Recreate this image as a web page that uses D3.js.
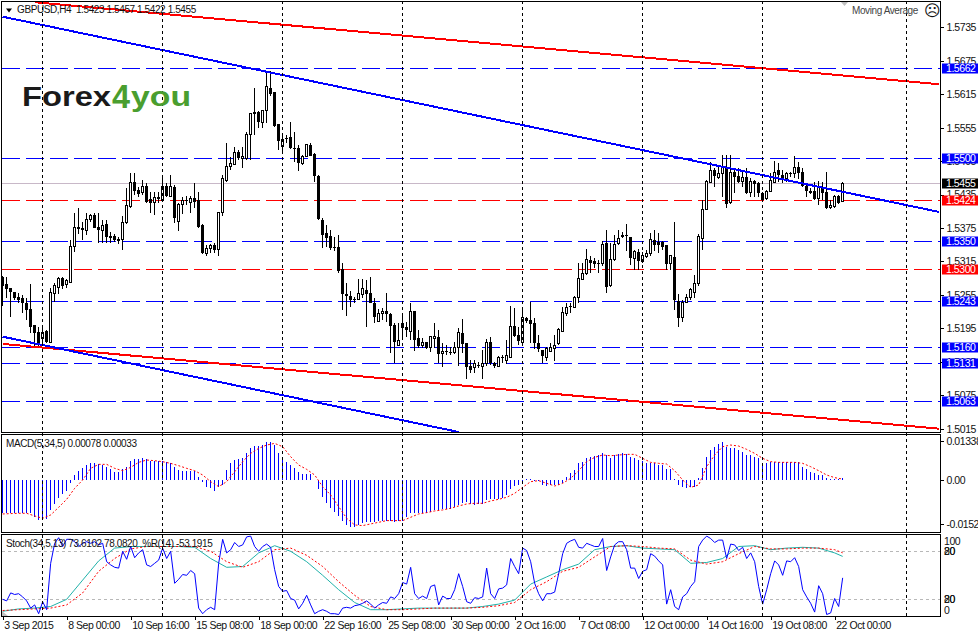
<!DOCTYPE html>
<html>
<head>
<meta charset="utf-8">
<title>GBPUSD,H4</title>
<script src="https://cdnjs.cloudflare.com/ajax/libs/d3/7.8.5/d3.min.js"></script>
<style>
html, body { margin: 0; padding: 0; background: #fff; }
svg { display: block; }
text { font-family: "Liberation Sans", sans-serif; font-size: 10px; letter-spacing: -0.4px; fill: #111; }
.axis text { font-size: 10.5px; letter-spacing: -0.45px; }
.axis path { display: none; }
.axis line { stroke: #000; shape-rendering: crispEdges; }
</style>
</head>
<body>
<div id="chart"></div>
<script>
// H4 candles, every row is open, high, low, close in points (1.5287 -> 5287)
var ohlc = [
[5287,5288,5235,5271],[5275,5287,5250,5266],[5268,5268,5215,5260],[5260,5260,5246,5250],[5252,5258,5241,5246],
[5250,5255,5223,5241],[5241,5250,5210,5228],[5230,5275,5187,5197],[5201,5201,5161,5187],[5188,5197,5161,5165],
[5176,5197,5165,5188],[5190,5192,5168,5170],[5170,5268,5170,5260],[5258,5276,5242,5271],[5269,5287,5257,5285],
[5285,5287,5266,5271],[5273,5284,5268,5280],[5278,5354,5278,5341],[5341,5402,5332,5375],[5377,5411,5364,5373],
[5375,5386,5354,5372],[5370,5402,5362,5390],[5390,5400,5386,5398],[5398,5402,5375,5375],[5377,5402,5348,5371],
[5371,5390,5348,5380],[5382,5390,5348,5359],[5361,5368,5348,5357],[5361,5364,5350,5354],[5355,5359,5346,5352],
[5355,5397,5336,5384],[5384,5447,5382,5415],[5413,5474,5411,5457],[5457,5474,5434,5441],[5443,5448,5431,5436],
[5438,5461,5434,5450],[5450,5456,5420,5421],[5427,5440,5402,5420],[5421,5440,5398,5429],[5431,5440,5420,5427],
[5425,5468,5421,5450],[5450,5456,5431,5432],[5432,5470,5431,5450],[5448,5452,5384,5393],[5386,5420,5370,5418],
[5418,5431,5400,5425],[5425,5432,5416,5423],[5421,5432,5402,5427],[5429,5456,5411,5421],[5425,5440,5375,5377],
[5380,5382,5329,5330],[5330,5345,5325,5339],[5339,5346,5330,5343],[5345,5348,5330,5336],[5336,5402,5325,5402],
[5402,5470,5397,5463],[5461,5528,5457,5486],[5486,5502,5479,5491],[5488,5520,5488,5511],[5511,5515,5497,5501],
[5499,5520,5482,5504],[5499,5547,5497,5542],[5542,5580,5497,5580],[5580,5626,5542,5583],[5583,5585,5554,5565],
[5565,5587,5554,5585],[5585,5657,5563,5628],[5626,5657,5612,5615],[5619,5619,5556,5558],[5562,5562,5515,5531],
[5522,5540,5511,5533],[5536,5542,5527,5534],[5538,5565,5517,5518],[5518,5547,5493,5517],[5518,5524,5477,5491],
[5491,5506,5488,5504],[5504,5526,5502,5524],[5524,5527,5504,5504],[5508,5509,5457,5468],[5468,5470,5390,5391],
[5390,5393,5339,5362],[5366,5380,5341,5357],[5361,5372,5336,5339],[5341,5359,5334,5339],[5341,5362,5294,5298],
[5302,5312,5228,5257],[5257,5276,5217,5253],[5253,5262,5233,5246],[5248,5252,5241,5246],[5246,5284,5246,5258],
[5255,5284,5250,5266],[5264,5282,5197,5257],[5258,5287,5241,5241],[5241,5250,5204,5215],[5208,5230,5206,5221],
[5221,5232,5210,5226],[5226,5258,5206,5221],[5221,5223,5151,5199],[5201,5205,5133,5170],[5165,5205,5163,5174],
[5205,5219,5178,5196],[5197,5206,5180,5192],[5190,5241,5174,5226],[5226,5226,5154,5174],[5178,5192,5160,5163],
[5165,5178,5160,5170],[5170,5170,5158,5160],[5160,5180,5153,5180],[5176,5205,5160,5181],[5180,5192,5133,5149],
[5149,5169,5126,5153],[5154,5165,5147,5153],[5153,5161,5147,5151],[5151,5170,5149,5161],[5160,5196,5127,5188],
[5187,5212,5151,5167],[5169,5169,5104,5126],[5127,5138,5115,5120],[5124,5138,5115,5131],[5129,5135,5124,5127],
[5126,5156,5104,5131],[5131,5176,5127,5169],[5170,5180,5129,5133],[5133,5135,5124,5127],[5127,5145,5126,5142],
[5143,5147,5133,5142],[5138,5174,5131,5147],[5143,5235,5143,5199],[5199,5232,5180,5181],[5183,5197,5165,5172],
[5170,5228,5163,5215],[5214,5215,5205,5208],[5210,5242,5169,5203],[5205,5214,5158,5169],[5169,5183,5153,5158],
[5156,5156,5133,5145],[5143,5161,5136,5158],[5154,5169,5153,5161],[5158,5183,5136,5165],[5167,5196,5165,5192],
[5190,5233,5190,5224],[5221,5241,5217,5233],[5235,5241,5223,5233],[5233,5253,5233,5250],[5250,5312,5241,5285],
[5282,5312,5282,5293],[5293,5337,5291,5318],[5318,5325,5294,5312],[5316,5321,5303,5311],[5312,5318,5294,5311],
[5312,5352,5307,5346],[5348,5372,5259,5269],[5271,5348,5269,5319],[5319,5362,5316,5346],[5348,5372,5345,5357],
[5359,5368,5357,5362],[5362,5382,5334,5361],[5359,5359,5309,5321],[5321,5336,5300,5332],[5332,5337,5300,5316],
[5314,5332,5312,5325],[5323,5336,5321,5329],[5330,5366,5325,5355],[5354,5372,5334,5345],[5350,5366,5330,5345],
[5350,5352,5336,5341],[5345,5345,5300,5311],[5312,5327,5300,5325],[5323,5386,5228,5246],[5244,5257,5197,5214],
[5214,5246,5206,5242],[5242,5257,5241,5250],[5250,5268,5246,5264],[5260,5291,5250,5276],[5276,5364,5271,5359],
[5357,5425,5336,5409],[5409,5461,5407,5459],[5457,5493,5456,5479],[5479,5483,5448,5468],[5466,5488,5463,5472],
[5472,5506,5431,5483],[5483,5506,5411,5418],[5420,5506,5418,5475],[5475,5483,5438,5466],[5468,5483,5456,5457],
[5459,5479,5448,5466],[5466,5483,5436,5438],[5438,5465,5431,5459],[5459,5461,5431,5454],[5456,5457,5431,5438],
[5438,5440,5423,5425],[5427,5443,5425,5440],[5441,5474,5440,5461],[5457,5495,5457,5475],[5479,5491,5457,5470],
[5470,5479,5456,5463],[5463,5475,5457,5473],[5473,5475,5466,5472],[5473,5504,5465,5484],[5484,5493,5463,5473],
[5475,5483,5448,5450],[5450,5452,5431,5441],[5441,5447,5436,5438],[5441,5457,5425,5427],[5427,5459,5416,5447],
[5448,5457,5425,5438],[5440,5475,5409,5411],[5411,5425,5409,5415],[5413,5434,5411,5431],[5432,5434,5418,5420],
[5423,5457,5422,5455]
];

// levels drawn as dashed horizontal lines
var blueLevels = [1.5662, 1.5500, 1.5350, 1.5243, 1.5160, 1.5131, 1.5063];
var redLevels = [1.5300, 1.5424];
var lastPrice = 1.5455;

// trend channels: [bar, price] at both ends
var blueTrends = [[[0, 1.5754], [234, 1.5404]], [[0, 1.5180], [114, 1.5009]]];
var redTrends = [[[8, 1.5780], [234, 1.5633]], [[0, 1.5167], [234, 1.5015]]];

var priceTicks = [1.5735, 1.5675, 1.5615, 1.5555, 1.5495, 1.5435, 1.5375, 1.5315, 1.5255, 1.5195, 1.5135, 1.5075, 1.5015];
var macdTicks = [0.01338, 0, -0.01524];
var separators = [10, 40, 70, 100, 130, 160, 190, 226];
var dateBars = [0, 16, 32, 48, 64, 80, 96, 112, 128, 144, 160, 176, 192, 208];
var dateLabels = ["3 Sep 2015", "8 Sep 00:00", "10 Sep 16:00", "15 Sep 08:00", "18 Sep 00:00", "22 Sep 16:00", "25 Sep 08:00",
  "30 Sep 00:00", "2 Oct 16:00", "7 Oct 08:00", "12 Oct 00:00", "14 Oct 16:00", "19 Oct 08:00", "22 Oct 00:00"];

// MACD histogram per bar, in 0.00001
var macdHist = [
-1117,-1117,-1117,-1117,-1117,-1117,-1117,-1140,-1277,-1368,-1368,-1345,-1026,-821,-627,-479,-365,-114,171,319,
399,513,593,570,547,513,433,365,285,285,365,456,661,718,718,752,707,650,650,650,
638,616,570,433,342,319,296,296,296,114,-57,-228,-285,-376,-228,-171,342,570,684,707,
741,912,1083,1163,1163,1197,1288,1311,1197,935,775,627,513,399,285,205,205,205,-10,-319,
-570,-775,-969,-1083,-1231,-1391,-1539,-1596,-1596,-1539,-1482,-1425,-1425,-1425,-1391,-1391,-1391,-1391,-1425,-1391,
-1391,-1277,-1140,-1117,-1140,-1140,-1117,-1083,-1026,-1026,-1003,-1003,-980,-935,-855,-775,-741,-821,-855,-821,
-821,-684,-661,-661,-638,-604,-513,-319,-205,-171,-23,34,34,-23,-23,-171,-205,-171,-171,-171,
-91,114,228,342,570,627,741,798,821,855,912,855,741,855,889,935,889,798,741,684,
661,570,570,570,513,513,365,365,23,-171,-251,-285,-251,-228,57,399,775,1026,1140,1231,
1288,1140,1083,1083,1026,969,855,855,798,741,570,593,627,604,604,604,604,604,604,604,
456,365,285,228,171,171,57,23,23,23,78
];
// MACD signal, read at every second bar
var macdSignal = [
-1163,-1151,-1140,-1140,-1231,-1311,-1197,-935,-661,-285,0,399,536,536,399,319,433,604,684,661,
627,570,490,399,319,171,-57,-228,-57,285,627,912,1083,1197,1254,1140,798,513,365,171,
-228,-513,-912,-1311,-1539,-1562,-1505,-1448,-1391,-1391,-1391,-1277,-1163,-1117,-1060,-1026,-969,-889,-821,-798,
-798,-718,-661,-593,-456,-251,-57,-23,-114,-205,-114,57,319,627,775,855,832,855,878,878,
741,604,570,547,319,0,-251,-171,456,855,1140,1197,1163,1049,912,741,627,604,604,604,
570,456,319,171,80,33
];

// Stochastic main and signal, read at every fourth bar and the last one
var stochMain = [5,8,9,11,20,44,68,84,86,86,86,86,85,71,60,61,78,87,80,67,50,32,16,7,7,8,9,9,9,9,11,14,19,39,48,57,64,82,86,87,84,83,82,65,66,71,86,87,82,84,85,84,78,73.61];
var stochSignal = [6,7,8,9,13,28,55,71,83,86,86,86,86,80,67,60,67,82,84,75,61,42,25,11,7,7,8,9,9,9,10,12,16,32,42,55,60,73,86,87,86,84,83,69,64,67,77,86,83,83,84,84,82,78.08];

// Williams %R per bar
var wpr = [
-80,-82,-72,-74,-73,-77,-82,-91,-87,-98,-83,-93,-35,-10,-3,-14,-5,-5,-8,-14,
-10,-8,-10,-8,-12,-10,-33,-37,-40,-41,-20,-30,-14,-28,-22,-18,-37,-39,-35,-31,
-16,-29,-20,-60,-55,-49,-50,-44,-48,-91,-98,-93,-90,-93,-35,-5,-22,-18,-9,-14,
-12,-2,-1,-14,-20,-14,-11,-15,-43,-64,-70,-69,-79,-81,-92,-85,-75,-87,-98,-95,
-93,-95,-98,-98,-99,-91,-90,-91,-88,-87,-85,-82,-86,-91,-87,-84,-85,-77,-79,-73,
-59,-61,-40,-73,-79,-76,-79,-64,-62,-87,-76,-79,-79,-68,-48,-64,-83,-85,-78,-79,
-77,-41,-73,-79,-67,-66,-62,-29,-39,-48,-16,-19,-33,-60,-73,-82,-73,-73,-71,-48,
-23,-10,-7,-5,-15,-16,-10,-12,-14,-14,-4,-44,-27,-12,-8,-8,-18,-41,-41,-54,
-45,-43,-23,-26,-32,-37,-86,-68,-89,-93,-77,-73,-64,-58,-14,-6,-1,-4,-9,-6,
-6,-29,-11,-12,-19,-15,-29,-22,-33,-64,-86,-68,-48,-32,-37,-50,-32,-33,-28,-39,
-68,-77,-85,-96,-63,-73,-99,-97,-79,-89,-53.19
];

var width = 978, height = 633;
var left = 2, right = 940;
var mainTop = 1, mainBottom = 432;
var macdTop = 434, macdBottom = 532;
var stochTop = 534, stochBottom = 616;

var svg = d3.select("#chart").append("svg").attr("width", width).attr("height", height);

var x = d3.scaleLinear().domain([0, 234]).range([2.67, 938.67]);
var yMain = d3.scaleLinear().domain([1.5784, 1.5009]).range([0, 432]);
var yMacd = d3.scaleLinear().domain([0.01558, -0.01798]).range([434.5, 532.5]);
var yStoch = d3.scaleLinear().domain([0, 100]).range([615.3, 535.3]);

function crisp(v) { return Math.floor(v) + 0.5; }

function clipPanel(id, top, bottom) {
  svg.append("clipPath").attr("id", id).append("rect")
    .attr("x", left).attr("y", top).attr("width", right - left).attr("height", bottom - top);
  return svg.append("g").attr("clip-path", "url(#" + id + ")");
}

var mainPanel = clipPanel("clip-main", mainTop, mainBottom);
var macdPanel = clipPanel("clip-macd", macdTop, macdBottom);
var stochPanel = clipPanel("clip-stoch", stochTop, stochBottom);

// weekly separators run through all panels
svg.append("g").selectAll("line").data(separators).join("line")
  .attr("x1", function (d) { return crisp(x(d)); })
  .attr("x2", function (d) { return crisp(x(d)); })
  .attr("y1", mainTop).attr("y2", stochBottom)
  .attr("stroke", "#000").attr("stroke-dasharray", "3,3")
  .attr("shape-rendering", "crispEdges");

// price levels
function drawLevels(levels, colour) {
  mainPanel.append("g").selectAll("line").data(levels).join("line")
    .attr("x1", left).attr("x2", right)
    .attr("y1", function (d) { return crisp(yMain(d)); })
    .attr("y2", function (d) { return crisp(yMain(d)); })
    .attr("stroke", colour).attr("stroke-dasharray", "18,6")
    .attr("shape-rendering", "crispEdges");
}
drawLevels(blueLevels, "#0000ff");
drawLevels(redLevels, "#ff0000");

mainPanel.append("line")
  .attr("x1", left).attr("x2", right)
  .attr("y1", crisp(yMain(lastPrice))).attr("y2", crisp(yMain(lastPrice)))
  .attr("stroke", "#c8b8c8").attr("shape-rendering", "crispEdges");

// candles
var price = function (v) { return yMain(1 + v / 10000); };
var candles = mainPanel.append("g").attr("shape-rendering", "crispEdges")
  .selectAll("g").data(ohlc).join("g");

candles.append("line")
  .attr("x1", function (d, i) { return crisp(x(i)); })
  .attr("x2", function (d, i) { return crisp(x(i)); })
  .attr("y1", function (d) { return price(d[1]); })
  .attr("y2", function (d) { return price(d[2]); })
  .attr("stroke", "#000");

candles.append("rect")
  .attr("x", function (d, i) { return Math.floor(x(i)) - 1 + (d[3] > d[0] ? 0.5 : 0); })
  .attr("y", function (d) { return Math.min(price(d[0]), price(d[3])); })
  .attr("width", function (d) { return d[3] > d[0] ? 2 : 3; })
  .attr("height", function (d) { return Math.max(1, Math.abs(price(d[0]) - price(d[3]))); })
  .attr("fill", function (d) { return d[3] > d[0] ? "#fff" : "#000"; })
  .attr("stroke", function (d) { return d[3] > d[0] ? "#000" : "none"; });

// trend channels go on top of the candles
function drawTrends(trends, colour) {
  var trendLine = d3.line()
    .x(function (d) { return x(d[0]); })
    .y(function (d) { return yMain(d[1]); });
  mainPanel.append("g").selectAll("path").data(trends).join("path")
    .attr("d", trendLine)
    .attr("fill", "none").attr("stroke", colour).attr("stroke-width", 2)
    .attr("shape-rendering", "crispEdges");
}
drawTrends(redTrends, "#ff0000");
drawTrends(blueTrends, "#0000ff");

// MACD
macdPanel.append("g").attr("shape-rendering", "crispEdges")
  .selectAll("line").data(macdHist).join("line")
  .attr("x1", function (d, i) { return crisp(x(i)); })
  .attr("x2", function (d, i) { return crisp(x(i)); })
  .attr("y1", yMacd(0))
  .attr("y2", function (d) { return yMacd(d / 100000); })
  .attr("stroke", "#0000ff");

var signalLine = d3.line()
  .x(function (d, i) { return x(i * 2); })
  .y(function (d) { return yMacd(d / 100000); });
macdPanel.append("path").datum(macdSignal).attr("d", signalLine)
  .attr("fill", "none").attr("stroke", "#ff0000").attr("stroke-dasharray", "2,2");

// Stochastic and %R share a window
stochPanel.append("g").selectAll("line").data([80, 20]).join("line")
  .attr("x1", left).attr("x2", right)
  .attr("y1", function (d) { return crisp(yStoch(d)); })
  .attr("y2", function (d) { return crisp(yStoch(d)); })
  .attr("stroke", "#b8b8b8").attr("stroke-dasharray", "3,3")
  .attr("shape-rendering", "crispEdges");

var stochBars = d3.range(0, 209, 4).concat([210]);
var stochLine = d3.line()
  .x(function (d, i) { return x(stochBars[i]); })
  .y(function (d) { return yStoch(d); });
stochPanel.append("path").datum(stochMain).attr("d", stochLine)
  .attr("fill", "none").attr("stroke", "#20b2aa");
stochPanel.append("path").datum(stochSignal).attr("d", stochLine)
  .attr("fill", "none").attr("stroke", "#ff0000").attr("stroke-dasharray", "2,2");

var wprLine = d3.line()
  .x(function (d, i) { return x(i); })
  .y(function (d) { return yStoch(100 + d); });
stochPanel.append("path").datum(wpr).attr("d", wprLine)
  .attr("fill", "none").attr("stroke", "#0000ff");

stochPanel.append("path")
  .attr("d", d3.line()([[left, 611], [left, 616], [8, 616]]))
  .attr("fill", "#c0c0c0");

// frames
[[mainTop, mainBottom], [macdTop, macdBottom], [stochTop, stochBottom]].forEach(function (p) {
  svg.append("rect")
    .attr("x", left - 0.5).attr("y", p[0] + 0.5)
    .attr("width", right - left + 1).attr("height", p[1] - p[0])
    .attr("fill", "none").attr("stroke", "#000")
    .attr("shape-rendering", "crispEdges");
});

// axes
svg.append("g").attr("class", "axis").attr("transform", "translate(" + (right + 0.5) + ",0)")
  .call(d3.axisRight(yMain).tickValues(priceTicks).tickFormat(d3.format(".4f")).tickSize(3).tickPadding(3));

svg.append("g").attr("class", "axis").attr("transform", "translate(" + (right + 0.5) + ",0)")
  .call(d3.axisRight(yMacd).tickValues(macdTicks)
    .tickFormat(function (d) { return d === 0 ? "0.00" : d3.format(".5f")(d).replace("\u2212", "-"); })
    .tickSize(3).tickPadding(3));

svg.append("g").attr("class", "axis").attr("transform", "translate(0," + (stochBottom + 0.5) + ")")
  .call(d3.axisBottom(x).tickValues(dateBars)
    .tickFormat(function (d, i) { return dateLabels[i]; }).tickSize(3).tickPadding(2))
  .selectAll("text").attr("text-anchor", "start").attr("dx", "1px");

// the Stochastic labels are printed over each other, as in the terminal
var stochLabels = [[100, 100, 541.5], ["80", 80, 551], ["20", 80, 551], ["20", 20, 599], ["80", 20, 599], ["0", 0, 610]];
svg.append("g").attr("class", "axis").selectAll("text").data(stochLabels).join("text")
  .attr("x", 944).attr("y", function (d) { return d[2]; }).attr("dy", "0.35em")
  .text(function (d) { return d[0]; });

// flags on the price axis
function drawFlags(levels, colour) {
  var flags = svg.append("g").selectAll("g").data(levels).join("g")
    .attr("transform", function (d) { return "translate(942," + crisp(yMain(d)) + ")"; });
  flags.append("rect").attr("x", 0).attr("y", -5).attr("width", 36).attr("height", 10).attr("fill", colour);
  flags.append("text").attr("x", 4).attr("dy", "0.35em").style("fill", "#fff").style("font-size", "10.5px")
    .style("letter-spacing", "-0.45px").text(d3.format(".4f"));
}
drawFlags(blueLevels, "#0000ff");
drawFlags(redLevels, "#ff0000");
drawFlags([lastPrice], "#000");

// captions
svg.append("path").attr("d", "M6,8.5H12L9,12.5Z").attr("fill", "#000");
svg.append("text").attr("x", 17).attr("y", 13).text("GBPUSD,H4  1.5423 1.5457 1.5422 1.5455").attr("xml:space", "preserve");
svg.append("text").attr("x", 6).attr("y", 447).text("MACD(5,34,5) 0.00078 0.00033");
svg.append("text").attr("x", 6).attr("y", 547).text("Stoch(34,5,13) 73.6102 78.0820  %R(14) -53.1915").attr("xml:space", "preserve");
svg.append("text").attr("x", 852).attr("y", 14).text("Moving Average").style("fill", "#444");
svg.append("text").attr("x", 924).attr("y", 16).text("\u2639").style("font-family", "DejaVu Sans").style("font-size", "16px");
svg.append("path").attr("d", "M841,2H848L844.5,6Z").attr("fill", "#c0c0c0");

// logo
var logo = svg.append("g").style("font-family", "Open Sans").style("font-weight", "700");
logo.append("text").attr("x", 22).attr("y", 106).attr("textLength", 89).attr("lengthAdjust", "spacingAndGlyphs")
  .style("font-size", "28px").style("letter-spacing", "0").style("fill", "#1a1a1a").text("Forex");
logo.append("text").attr("x", 112).attr("y", 108).attr("textLength", 18).attr("lengthAdjust", "spacingAndGlyphs")
  .style("font-size", "33px").style("letter-spacing", "0").style("fill", "#4a9e2f").text("4");
logo.append("text").attr("x", 131).attr("y", 106).attr("textLength", 60).attr("lengthAdjust", "spacingAndGlyphs")
  .style("font-size", "28px").style("letter-spacing", "0").style("fill", "#4a9e2f").text("you");
</script>
</body>
</html>
